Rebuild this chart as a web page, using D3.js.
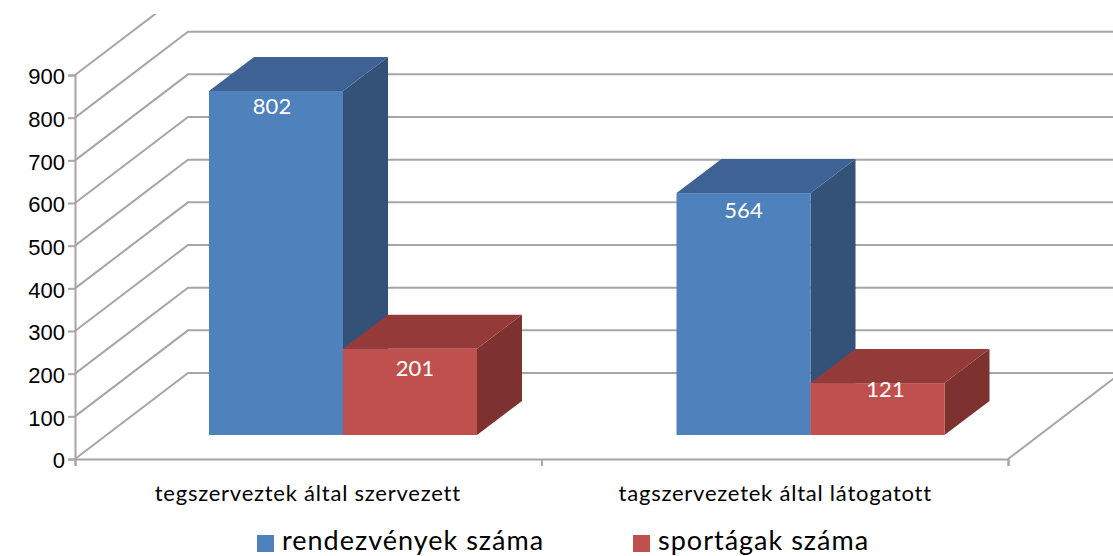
<!DOCTYPE html>
<html lang="hu">

<head>
	<title>Rendezvények és sportágak</title>
	<meta charset="utf-8">
	<script src="https://d3js.org/d3.v7.min.js"></script>
	<style>
		html, body { margin: 0; padding: 0; background: #fff; overflow: hidden; }
		svg { display: block; font-family: Lato, "Open Sans", sans-serif; }
	</style>
</head>

<body>
	<div id="container"></div>
	<script>
		// Data
		const categories = ["tegszerveztek által szervezett", "tagszervezetek által látogatott"];
		const seriesNames = ["rendezvények száma", "sportágak száma"];
		const rendezvenyek = [802, 564];
		const sportagak = [201, 121];
		const yTicks = [0, 100, 200, 300, 400, 500, 600, 700, 800, 900];

		// Chart dimensions
		const width = 1113;
		const height = 556;
		const plot = { left: 75, right: 1008, bottom: 459, top: 75 };
		const wall = { dx: 113, dy: -86 };     // floor depth
		const barBase = 435;
		const barDepth = { dx: 45, dy: -34 };

		const colors = [
			{ front: "#4f81bd", top: "#3d6293", side: "#345278" },
			{ front: "#c0504d", top: "#943a38", side: "#7d3230" }
		];

		// label nudges [dx, dy] per series and category, the labels sit unevenly in the original
		const labelNudge = [[[-4, -1], [0, 1]], [[5, 3], [8, -10]]];

		const svg = d3.select("#container")
			.append("svg")
			.attr("width", width)
			.attr("height", height);

		svg.append("defs").append("clipPath")
			.attr("id", "plot-clip")
			.append("rect")
			.attr("x", 0).attr("y", 14)
			.attr("width", width).attr("height", height);

		// Scales
		const y = d3.scaleLinear().domain([0, 900]).range([plot.bottom, plot.top]);
		const yBar = d3.scaleLinear().domain([0, 900]).range([barBase, barBase - 386]);
		const x0 = d3.scalePoint().domain(d3.range(categories.length + 1)).range([plot.left, plot.right]);
		const xBars = d3.scaleBand().domain(categories).range([plot.left, plot.right + 2]);
		const x1 = d3.scaleBand().domain(seriesNames).range([134, 402]);

		// Walls and floor
		const grid = svg.append("g")
			.attr("clip-path", "url(#plot-clip)")
			.attr("fill", "none")
			.attr("stroke", "#a6a6a6")
			.attr("stroke-width", 2);

		grid.selectAll("path.wall")
			.data(yTicks)
			.join("path")
			.attr("class", "wall")
			.attr("d", d => d3.line()([
				[plot.left, y(d)],
				[plot.left + wall.dx, y(d) + wall.dy],
				[width + 5, y(d) + wall.dy]
			]));

		grid.append("path")
			.attr("d", d3.line()([
				[plot.right, plot.bottom],
				[plot.right + wall.dx, plot.bottom + wall.dy]
			]));

		// Axes
		const axisLeft = svg.append("g")
			.attr("transform", `translate(${plot.left},0)`)
			.call(d3.axisLeft(y).tickValues(yTicks).tickSize(7).tickPadding(3));

		const axisBottom = svg.append("g")
			.attr("transform", `translate(0,${plot.bottom})`)
			.call(d3.axisBottom(x0).tickSize(7).tickFormat(""));

		svg.selectAll(".domain, .tick line")
			.attr("stroke", "#a6a6a6")
			.attr("stroke-width", 2);

		axisLeft.selectAll("text")
			.attr("fill", "#000")
			.attr("dy", "0.4em")
			.style("font-size", "22px");

		// Category labels
		svg.append("g")
			.selectAll("text")
			.data(categories)
			.join("text")
			.attr("x", d => xBars(d) + xBars.bandwidth() / 2 - 1)
			.attr("y", 501)
			.attr("text-anchor", "middle")
			.attr("fill", "#000")
			.style("font-size", "22px")
			.style("letter-spacing", "0.77px")
			.text(d => d);

		// Bars
		const values = [rendezvenyek, sportagak];

		const bars = seriesNames.flatMap((name, s) => categories.map((cat, c) => ({
			name, cat, s, c, value: values[s][c]
		})));

		const barGroups = svg.append("g")
			.selectAll("g")
			.data(bars)
			.join("g")
			.attr("transform", d => `translate(${xBars(d.cat) + x1(d.name)},0)`);

		const w = x1.bandwidth();

		barGroups.append("path")
			.attr("fill", d => colors[d.s].side)
			.attr("d", d => d3.line()([
				[w, yBar(d.value)],
				[w + barDepth.dx, yBar(d.value) + barDepth.dy],
				[w + barDepth.dx, yBar(0) + barDepth.dy],
				[w, yBar(0)]
			]) + "Z");

		barGroups.append("path")
			.attr("fill", d => colors[d.s].top)
			.attr("d", d => d3.line()([
				[0, yBar(d.value)],
				[barDepth.dx, yBar(d.value) + barDepth.dy],
				[w + barDepth.dx, yBar(d.value) + barDepth.dy],
				[w, yBar(d.value)]
			]) + "Z");

		barGroups.append("rect")
			.attr("fill", d => colors[d.s].front)
			.attr("x", 0)
			.attr("y", d => yBar(d.value))
			.attr("width", w)
			.attr("height", d => yBar(0) - yBar(d.value));

		barGroups.append("text")
			.attr("x", d => w / 2 + labelNudge[d.s][d.c][0])
			.attr("y", d => yBar(d.value) + 24 + labelNudge[d.s][d.c][1])
			.attr("text-anchor", "middle")
			.attr("fill", "#fff")
			.style("font-size", "22px")
			.text(d => d.value);

		// Legend
		const legendX = d3.scaleOrdinal().domain(seriesNames).range([257, 633]);

		const legend = svg.append("g")
			.selectAll("g")
			.data(seriesNames)
			.join("g")
			.attr("transform", d => `translate(${legendX(d)},535)`);

		legend.append("rect")
			.attr("width", 17)
			.attr("height", 17)
			.attr("fill", (d, i) => colors[i].front);

		legend.append("text")
			.attr("x", 25)
			.attr("y", 15)
			.attr("fill", "#000")
			.style("font-size", "27px")
			.style("letter-spacing", "1px")
			.text(d => d);
	</script>
</body>

</html>
